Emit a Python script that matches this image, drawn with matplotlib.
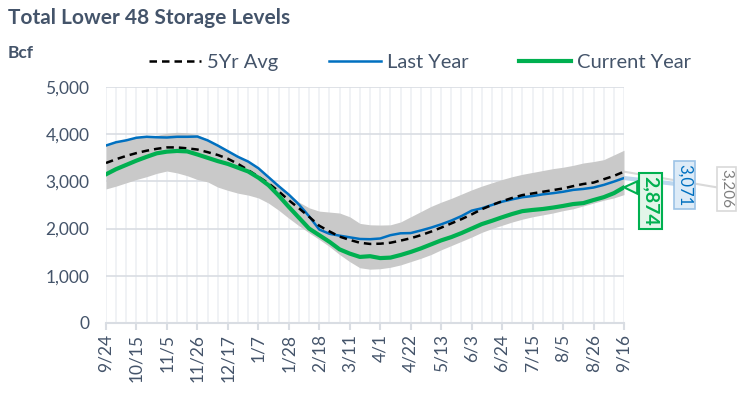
import numpy as np
import matplotlib.pyplot as plt
from matplotlib.patches import Polygon
from matplotlib.lines import Line2D

plt.rcParams['font.family'] = ['Lato', 'DejaVu Sans']

# weekly storage, Bcf (9/24 .. 9/16)
tick_labels = ['9/24', '10/15', '11/5', '11/26', '12/17', '1/7', '1/28', '2/18', '3/11',
               '4/1', '4/22', '5/13', '6/3', '6/24', '7/15', '8/5', '8/26', '9/16']

current_year = [3150, 3260, 3350, 3440, 3520, 3595, 3630, 3645, 3635, 3570, 3500, 3430,
                3370, 3290, 3210, 3080, 2920, 2700, 2460, 2230, 2000, 1860, 1720, 1560,
                1470, 1400, 1415, 1375, 1385, 1440, 1505, 1580, 1665, 1750, 1820, 1905,
                2000, 2095, 2165, 2240, 2310, 2370, 2395, 2415, 2445, 2480, 2520, 2540,
                2605, 2665, 2750, 2874]

last_year = [3760, 3830, 3870, 3925, 3945, 3935, 3930, 3945, 3945, 3950, 3870, 3760,
             3640, 3520, 3420, 3280, 3090, 2900, 2720, 2510, 2260, 1980, 1890, 1850,
             1815, 1780, 1775, 1790, 1860, 1900, 1905, 1960, 2020, 2090, 2170, 2265,
             2380, 2430, 2500, 2570, 2620, 2665, 2690, 2725, 2750, 2780, 2820, 2840,
             2870, 2925, 2995, 3071]

five_yr_avg = [3390, 3470, 3540, 3600, 3650, 3690, 3720, 3720, 3700, 3675, 3620, 3560,
               3480, 3370, 3240, 3100, 2960, 2790, 2600, 2430, 2250, 2060, 1940, 1830,
               1760, 1700, 1675, 1680, 1700, 1745, 1795, 1860, 1935, 2020, 2110, 2200,
               2300, 2410, 2500, 2580, 2650, 2710, 2745, 2780, 2815, 2850, 2900, 2945,
               2975, 3045, 3115, 3206]

range_high = [3770, 3840, 3880, 3930, 3955, 3975, 4020, 4040, 4030, 3990, 3890, 3780,
              3660, 3540, 3430, 3290, 3100, 2920, 2740, 2560, 2440, 2370, 2350, 2330,
              2250, 2110, 2080, 2075, 2080, 2140, 2250, 2360, 2470, 2560, 2640, 2730,
              2820, 2900, 2970, 3040, 3100, 3150, 3190, 3230, 3270, 3300, 3340, 3390,
              3420, 3460, 3560, 3660]

range_low = [2840, 2900, 2970, 3040, 3100, 3170, 3220, 3180, 3120, 3040, 2990, 2880,
             2810, 2750, 2710, 2650, 2540, 2390, 2220, 2060, 1910, 1770, 1620, 1450,
             1300, 1170, 1140, 1150, 1180, 1230, 1300, 1370, 1450, 1550, 1640, 1730,
             1820, 1920, 2000, 2070, 2140, 2200, 2250, 2290, 2330, 2380, 2420, 2480,
             2540, 2600, 2650, 2720]

text_col = '#44546A'
green = '#00B050'
blue = '#0070C0'

x = np.arange(len(current_year))

fig = plt.figure(figsize=(7.38, 4.05), dpi=100)
ax = fig.add_axes([0.1436, 0.2025, 0.7019, 0.5827])

ax.fill_between(x, range_low, range_high, color='#C9C9C9', lw=0, zorder=2)
ax.plot(x, last_year, color=blue, lw=1.8, zorder=3)
ax.plot(x, five_yr_avg, color='black', lw=1.8, ls=(0, (3, 2)), zorder=4)
ax.plot(x, current_year, color=green, lw=3, zorder=5)

ax.set_xlim(0, len(x) - 1)
ax.set_ylim(0, 5000)
ax.set_xticks(np.arange(0, len(x), 3))
ax.set_xticklabels(tick_labels, rotation=90)
ax.set_xticks(x, minor=True)
ax.set_yticks(np.arange(0, 5001, 1000))
ax.set_yticklabels([f'{v:,}' for v in range(0, 5001, 1000)])
ax.grid(axis='x', which='both', color='#EDF0F4', lw=1.2, zorder=0)
ax.grid(axis='y', which='major', color='#D9DDE3', lw=1.2, zorder=0)
ax.set_axisbelow(True)
for s in ['top', 'right', 'left']:
    ax.spines[s].set_visible(False)
ax.spines['bottom'].set_color('#D9DDE3')
ax.spines['bottom'].set_linewidth(1.5)
ax.tick_params(axis='x', which='major', length=5, color='#D9DDE3', width=1.5,
               labelsize=12.5, labelcolor=text_col, pad=3)
ax.tick_params(axis='x', which='minor', length=0)
ax.tick_params(axis='y', length=0, labelsize=12.5, labelcolor=text_col, pad=12)

# callouts at the end of the series
n = len(x) - 1
ax.plot([n, 61.1], [five_yr_avg[-1], 2839], color='#D9D9D9', lw=1.5, clip_on=False, zorder=1)
ax.plot([n, 57.0], [last_year[-1], 2924], color='#BDD7EE', lw=3, clip_on=False, zorder=1)
ax.add_patch(Polygon([[n, current_year[-1]], [52.3, 3000], [52.3, 2740]], closed=True,
                     fc='#E2F5E9', ec=green, lw=1.5, clip_on=False, zorder=6))
ax.text(61.1, 2839, f'{five_yr_avg[-1]:,}', rotation=270, ha='center', va='center',
        fontsize=11, color='#7F7F7F', clip_on=False, zorder=7,
        bbox=dict(boxstyle='square,pad=0.15', fc='white', ec='#D9D9D9', lw=1.2))
ax.text(57.0, 2924, f'{last_year[-1]:,}', rotation=270, ha='center', va='center',
        fontsize=12, color=blue, clip_on=False, zorder=7,
        bbox=dict(boxstyle='square,pad=0.15', fc='#DDEBF7', ec='#9DC3E6', lw=1.2))
ax.text(53.6, 2585, f'{current_year[-1]:,}', rotation=270, ha='center', va='center',
        fontsize=14, color=green, fontweight='bold', clip_on=False, zorder=7,
        bbox=dict(boxstyle='square,pad=0.15', fc='#E2F5E9', ec=green, lw=1.5))

fig.text(0.011, 0.955, 'Total Lower 48 Storage Levels', fontsize=15, fontweight='bold',
         color=text_col, va='center')
fig.text(0.011, 0.87, 'Bcf', fontsize=12.5, fontweight='bold', color=text_col, va='center')

handles = [Line2D([], [], color='black', lw=1.8, ls=(0, (3, 2))),
           Line2D([], [], color=blue, lw=1.8),
           Line2D([], [], color=green, lw=3)]
fig.legend(handles, ['5Yr Avg', 'Last Year', 'Current Year'], ncol=3, loc='center',
           bbox_to_anchor=(0.569, 0.845), frameon=False, fontsize=14.5, handlelength=2.6,
           columnspacing=2.5, handletextpad=0.3, labelcolor=text_col)

fig.savefig('out.png', dpi=100)
